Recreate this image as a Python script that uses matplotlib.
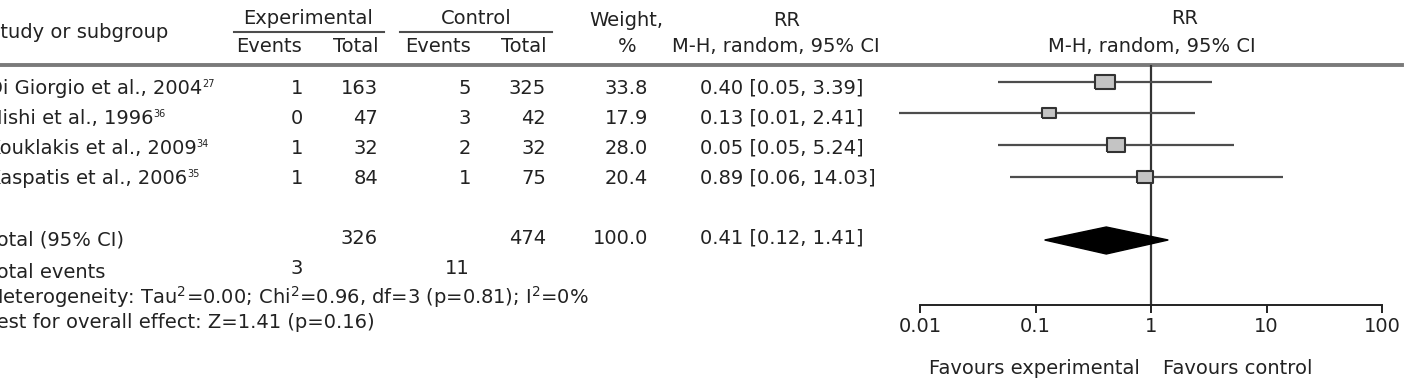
import matplotlib
matplotlib.use("Agg")
import matplotlib.pyplot as plt

# study rows
studies = ["Di Giorgio et al., 2004", "Nishi et al., 1996",
           "Kouklakis et al., 2009", "Kaspatis et al., 2006"]
refs = ["27", "36", "34", "35"]
exp_events = [1, 0, 1, 1]
exp_total = [163, 47, 32, 84]
ctl_events = [5, 3, 2, 1]
ctl_total = [325, 42, 32, 75]
weight = [33.8, 17.9, 28.0, 20.4]
rr_text = ["0.40 [0.05, 3.39]", "0.13 [0.01, 2.41]",
           "0.05 [0.05, 5.24]", "0.89 [0.06, 14.03]"]
# plotted estimates
rr = [0.40, 0.13, 0.50, 0.89]
rr_lo = [0.047, 0.0066, 0.047, 0.06]
rr_hi = [3.39, 2.41, 5.24, 14.03]

# pooled
tot_exp, tot_ctl, tot_weight = 326, 474, 100.0
pooled_text = "0.41 [0.12, 1.41]"
pooled = [0.12, 0.41, 1.41]
events_exp, events_ctl = 3, 11
ticks = [0.01, 0.1, 1, 10, 100]
tick_labels = ["0.01", "0.1", "1", "10", "100"]

FS = 14
TC = "#222222"
LC = "#4d4d4d"
X0 = -12  # left text is cut by the figure edge in the original

fig = plt.figure(figsize=(14.1, 3.81), dpi=100)
tab = fig.add_axes([0, 0, 1, 1])
tab.set_xlim(0, 1410)
tab.set_ylim(381, 0)
tab.axis("off")

def txt(x, y, s, ha="left", **kw):
    return tab.text(x, y, s, ha=ha, va="center", fontsize=FS, color=TC, clip_on=False, **kw)

# header
txt(X0, 33, "Study or subgroup")
txt(308, 18, "Experimental", ha="center")
txt(476, 18, "Control", ha="center")
tab.plot([234, 384], [32, 32], color=LC, lw=1.5)
tab.plot([400, 552], [32, 32], color=LC, lw=1.5)
txt(302, 47, "Events", ha="right")
txt(379, 47, "Total", ha="right")
txt(471, 47, "Events", ha="right")
txt(547, 47, "Total", ha="right")
txt(626, 20, "Weight,", ha="center")
txt(627, 47, "%", ha="center")
txt(787, 20, "RR", ha="center")
txt(776, 47, "M-H, random, 95% CI", ha="center")
txt(1185, 18, "RR", ha="center")
txt(1152, 47, "M-H, random, 95% CI", ha="center")
tab.plot([0, 1402], [65, 65], color="#7a7a7a", lw=2.8)

text_y = [88, 118, 148, 178]
for i, name in enumerate(studies):
    y = text_y[i]
    t = txt(X0, y, name)
    tab.annotate(refs[i], xy=(1, 0.95), xycoords=t, fontsize=7, color=TC,
                 ha="left", va="top")
    txt(303, y, str(exp_events[i]), ha="right")
    txt(378, y, str(exp_total[i]), ha="right")
    txt(471, y, str(ctl_events[i]), ha="right")
    txt(546, y, str(ctl_total[i]), ha="right")
    txt(648, y, f"{weight[i]:.1f}", ha="right")
    txt(700, y, rr_text[i])

txt(X0, 240, "Total (95% CI)")
txt(378, 238, str(tot_exp), ha="right")
txt(546, 238, str(tot_ctl), ha="right")
txt(648, 238, f"{tot_weight:.1f}", ha="right")
txt(700, 238, pooled_text)
txt(X0, 273, "Total events")
txt(303, 268, str(events_exp), ha="right")
txt(470, 268, str(events_ctl), ha="right")
txt(X0, 297, "Heterogeneity: Tau$^{2}$=0.00; Chi$^{2}$=0.96, df=3 (p=0.81); I$^{2}$=0%")
txt(X0, 322, "Test for overall effect: Z=1.41 (p=0.16)")

# forest plot
fax = fig.add_axes([920 / 1410, (381 - 305) / 381, 462 / 1410, (305 - 65) / 381])
fax.patch.set_alpha(0)
fax.set_xscale("log")
fax.set_xlim(0.01, 100)
fax.set_ylim(305, 65)
for s in ["top", "left", "right"]:
    fax.spines[s].set_visible(False)
fax.spines["bottom"].set_color(TC)
fax.spines["bottom"].set_linewidth(1.4)
fax.set_yticks([])
fax.set_xticks(ticks)
fax.set_xticklabels(tick_labels)
fax.minorticks_off()
fax.tick_params(axis="x", direction="out", length=6, width=1.4, color=TC,
                labelsize=FS, labelcolor=TC, pad=3)
fax.axvline(1, color="#333333", lw=1.6)

mark_y = [82, 113, 145, 177]
rect = [(-1.35, -1), (1.35, -1), (1.35, 1), (-1.35, 1), (-1.35, -1)]
for i in range(len(studies)):
    fax.hlines(mark_y[i], rr_lo[i], rr_hi[i], color=LC, lw=1.6, clip_on=False)
    w = 8 + 0.35 * weight[i]
    fax.plot(rr[i], mark_y[i], marker=rect, ms=w * 0.72, mfc="#c4c4c4",
             mec="#333333", mew=1.5, ls="none", zorder=3)

fax.fill([pooled[0], pooled[1], pooled[2], pooled[1]], [240, 227, 240, 254],
         color="black", zorder=3)

txt(1140, 368, "Favours experimental", ha="right")
txt(1163, 368, "Favours control")

fig.savefig("out.png", dpi=100)
